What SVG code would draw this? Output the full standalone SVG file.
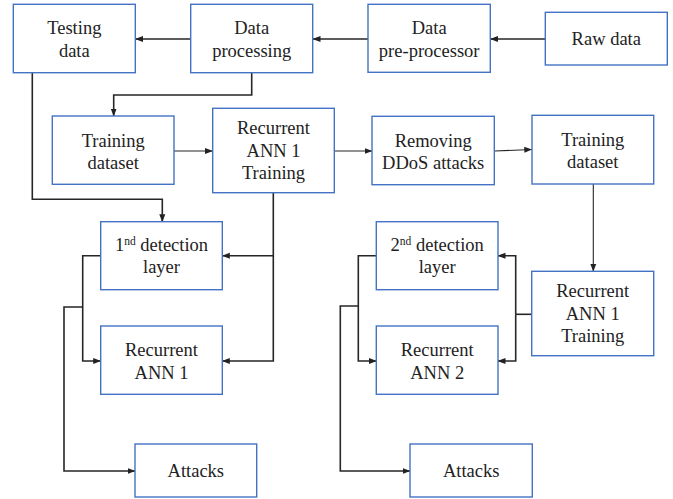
<svg xmlns="http://www.w3.org/2000/svg" width="673" height="499" viewBox="0 0 673 499" font-family="Liberation Serif, DejaVu Serif, serif">
<defs>
<marker id="ah" markerUnits="userSpaceOnUse" markerWidth="8" markerHeight="8" viewBox="0 0 8 8" refX="7.5" refY="4" orient="auto">
<path d="M0,1 L8,4 L0,7 Z" fill="#222"/>
</marker>
</defs>
<style>
rect{fill:#fff;stroke:#4472C4;stroke-width:1.4}
text{font-size:18.5px;fill:#222;text-anchor:middle}
.c path{fill:none;stroke:#262626;stroke-width:1.6}
.c path.a{marker-end:url(#ah)}
.c path.t{stroke-width:1.1}
</style>
<rect x="0" y="0" width="673" height="499" style="fill:#fff;stroke:none"/>
<g class="c" id="connectors">
<path class="a" d="M191,39 H135.5"/>
<path class="a" d="M368,39 H313"/>
<path class="a" d="M545,39 H490.5"/>
<path class="a" d="M251.7,72.5 V95 H113.7 V116"/>
<path class="a t" d="M174,151 H212.5"/>
<path class="a t" d="M334.5,151 H372"/>
<path class="a t" d="M494.5,151 L531.8,149.5"/>
<path class="a" d="M32.3,72.5 V199.3 H162.3 V221.7"/>
<path class="a" d="M273.3,192.7 V255.7 H222.3"/>
<path class="a" d="M273.3,255.7 V361 H222.3"/>
<path class="a" d="M100.7,255.7 H82.7 V361 H100.7"/>
<path class="a" d="M82.7,307 H64 V471 H135"/>
<path class="a t" d="M593.3,184 V271.3"/>
<path d="M531.7,314.3 H515.7"/>
<path class="a" d="M515.7,314.3 V255.7 H498"/>
<path class="a" d="M515.7,314.3 V361 H498"/>
<path class="a" d="M376.3,255.7 H358.3 V361 H376.3"/>
<path class="a" d="M358.3,306 H340.3 V471 H410"/>
</g>
<g id="testing-data"><rect x="13.3" y="4.3" width="122" height="68.4"/><text x="74.3" y="34">Testing</text><text x="74.3" y="56.7">data</text></g>
<g id="data-processing"><rect x="190.7" y="4.3" width="122" height="68.4"/><text x="251.7" y="34">Data</text><text x="251.7" y="56.7">processing</text></g>
<g id="data-preprocessor"><rect x="368" y="4.3" width="122.3" height="68"/><text x="429.2" y="34">Data</text><text x="429.2" y="56.7">pre-processor</text></g>
<g id="raw-data"><rect x="545.3" y="12.3" width="122" height="52.7"/><text x="606.3" y="45.3">Raw data</text></g>
<g id="training-dataset-1"><rect x="52.3" y="116" width="121.7" height="68.3"/><text x="113.2" y="146.7">Training</text><text x="113.2" y="168.7">dataset</text></g>
<g id="rann1-training-1"><rect x="212.7" y="108.3" width="121.6" height="84.4"/><text x="273.5" y="134.3">Recurrent</text><text x="273.5" y="156.7">ANN 1</text><text x="273.5" y="179">Training</text></g>
<g id="removing-ddos"><rect x="372" y="116.3" width="122.3" height="68.4"/><text x="433.2" y="146.7">Removing</text><text x="433.2" y="168.7">DDoS attacks</text></g>
<g id="training-dataset-2"><rect x="532" y="115.3" width="121.7" height="68.7"/><text x="592.8" y="146">Training</text><text x="592.8" y="168">dataset</text></g>
<g id="detection-1"><rect x="100.7" y="221.7" width="121.6" height="68"/><text x="161.5" y="251">1<tspan font-size="11.5" dy="-6.5">nd</tspan><tspan dy="6.5"> detection</tspan></text><text x="161.5" y="273.3">layer</text></g>
<g id="rann-1"><rect x="100.7" y="326" width="121.6" height="68.3"/><text x="161.5" y="356.3">Recurrent</text><text x="161.5" y="378.7">ANN 1</text></g>
<g id="attacks-1"><rect x="135" y="444" width="121.7" height="53"/><text x="195.8" y="477.3">Attacks</text></g>
<g id="detection-2"><rect x="376.3" y="221.7" width="121.7" height="68"/><text x="437.2" y="251">2<tspan font-size="11.5" dy="-6.5">nd</tspan><tspan dy="6.5"> detection</tspan></text><text x="437.2" y="273.3">layer</text></g>
<g id="rann-2"><rect x="376.3" y="326" width="121.7" height="68.3"/><text x="437.2" y="356.3">Recurrent</text><text x="437.2" y="378.7">ANN 2</text></g>
<g id="rann1-training-2"><rect x="531.7" y="271.3" width="122" height="84.4"/><text x="592.7" y="297.3">Recurrent</text><text x="592.7" y="319.7">ANN 1</text><text x="592.7" y="342">Training</text></g>
<g id="attacks-2"><rect x="410" y="444" width="122.3" height="53"/><text x="471.2" y="477.3">Attacks</text></g>
</svg>
